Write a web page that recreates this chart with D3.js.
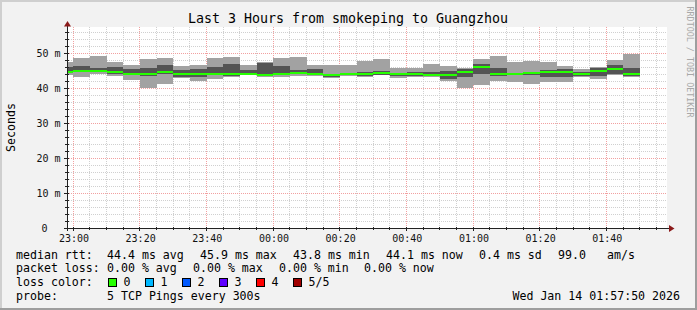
<!DOCTYPE html>
<html><head><meta charset="utf-8">
<script src="https://cdn.jsdelivr.net/npm/d3@7"></script>
<style>
body{margin:0;background:#fff}
svg{display:block}
text{font-family:"DejaVu Sans Mono",monospace}
</style>
</head><body>
<svg id="c" width="697" height="310"></svg>
<script>
// ---- data (ms) ----
const stepEnd = ["23:00","23:05","23:10","23:15","23:20","23:25","23:30","23:35","23:40","23:45",
  "23:50","23:55","00:00","00:05","00:10","00:15","00:20","00:25","00:30","00:35",
  "00:40","00:45","00:50","00:55","01:00","01:05","01:10","01:15","01:20","01:25",
  "01:30","01:35","01:40","01:45","01:50"];
const pingMin = [43.7,43.2,43.9,43.4,42.3,40.1,41.1,43.0,42.0,42.6,
  43.1,43.8,43.2,43.2,43.4,43.5,43.0,43.4,43.2,43.7,
  43.0,43.2,43.2,42.0,40.1,41.0,42.0,41.6,41.1,41.8,
  41.8,43.1,42.6,43.6,43.2];
const pingLow = [44.5,44.6,44.8,44.0,43.6,43.4,44.0,43.2,43.2,43.6,
  43.5,43.9,43.3,43.6,44.1,43.6,43.2,43.6,43.5,43.8,
  43.3,43.5,43.5,42.7,43.2,43.9,43.4,43.7,43.8,43.2,
  43.2,43.4,43.4,44.0,43.4];
const median = [44.6,45.0,45.0,44.6,44.1,43.9,44.6,44.0,43.9,44.1,
  44.0,44.0,43.8,43.9,44.4,43.9,43.8,43.9,44.0,44.4,
  44.1,44.0,43.8,43.8,44.6,45.9,43.9,43.9,44.3,44.5,
  44.6,44.0,45.0,45.3,44.1];
const pingHigh = [46.1,46.4,45.8,46.1,45.4,45.6,46.6,45.1,45.4,46.1,
  46.9,45.1,47.2,46.4,45.1,45.4,44.0,44.4,44.7,45.0,
  44.4,44.7,44.7,45.0,45.4,47.0,45.8,44.2,44.6,45.1,
  45.4,44.5,45.7,46.6,45.8];
const pingMax = [47.3,48.7,49.2,47.4,46.6,48.3,48.7,46.4,46.6,48.7,
  48.9,46.6,47.4,48.7,49.0,46.6,46.6,46.6,47.7,48.3,
  45.8,45.8,46.9,46.4,45.6,48.3,49.2,47.3,47.8,47.3,
  46.4,45.4,45.9,48.0,49.7];
const yTickValues = [0,10,20,30,40,50];
const yTickLabels = ["0","10 m","20 m","30 m","40 m","50 m"];
const rttStats = ["44.4 ms avg","45.9 ms max","43.8 ms min","44.1 ms now","0.4 ms sd","99.0","am/s"];
const lossStats = ["0.00 % avg","0.00 % max","0.00 % min","0.00 % now"];
const lossLabels = ["0","1","2","3","4","5/5"];
const lossColors = ["#26ff00","#00b8ff","#0059ff","#5e00ff","#ff0000","#a00000"];

// ---- layout ----
const svg = d3.select("#c");
const W = 697, H = 310;
const X0 = 67, X1 = 667, YB = 228, YT = 27;
const t0 = Date.UTC(2026,0,13,22,58,7);
const t1 = t0 + 3*3600*1000;
const x = d3.scaleUtc().domain([t0,t1]).range([X0,X1]);
const y = d3.scaleLinear().domain([0,57.43]).range([YB,YT]);
function parseT(s){const [h,m]=s.split(":").map(Number);return Date.UTC(2026,0,h>=12?13:14,h,m,0);}

// background + frame
svg.append("rect").attr("width",W).attr("height",H).attr("fill","#f2f2f2");
svg.append("rect").attr("x",0).attr("y",0).attr("width",W).attr("height",2).attr("fill","#cfcfcf");
svg.append("rect").attr("x",0).attr("y",0).attr("width",2).attr("height",H).attr("fill","#cfcfcf");
svg.append("rect").attr("x",0).attr("y",H-2).attr("width",W).attr("height",2).attr("fill","#9e9e9e");
svg.append("rect").attr("x",W-2).attr("y",0).attr("width",2).attr("height",H).attr("fill","#9e9e9e");

// canvas
svg.append("rect").attr("x",X0).attr("y",YT).attr("width",X1-X0).attr("height",YB-YT).attr("fill","#ffffff");

const g = svg.append("g");
// minor grid
const minorT = d3.utcMinute.every(5).range(t0,t1);
const majorT = d3.utcMinute.every(20).range(t0,t1);
const px = v => Math.floor(v)+0.5;
g.selectAll(".vmin").data(minorT.filter(t=>new Date(t).getUTCMinutes()%20!==0)).enter().append("line")
  .attr("x1",d=>px(x(d))).attr("x2",d=>px(x(d))).attr("y1",YT).attr("y2",YB)
  .attr("stroke","#d0d0d0").attr("stroke-dasharray","1,1");
const minorY = d3.range(2,57.4,2).filter(v=>v%10!==0);
g.selectAll(".hmin").data(minorY).enter().append("line")
  .attr("x1",X0).attr("x2",X1).attr("y1",d=>px(y(d))).attr("y2",d=>px(y(d)))
  .attr("stroke","#d0d0d0").attr("stroke-dasharray","1,1");
// major grid
g.selectAll(".vmaj").data(majorT).enter().append("line")
  .attr("x1",d=>px(x(d))).attr("x2",d=>px(x(d))).attr("y1",YT).attr("y2",YB)
  .attr("stroke","#f2a0a0").attr("stroke-dasharray","1,1");
g.selectAll(".hmaj").data(yTickValues.filter(v=>v>0)).enter().append("line")
  .attr("x1",X0).attr("x2",X1).attr("y1",d=>px(y(d))).attr("y2",d=>px(y(d)))
  .attr("stroke","#f2a0a0").attr("stroke-dasharray","1,1");

// smoke
const blocks = stepEnd.map((s,i)=>{const e=parseT(s);return {s:Math.max(t0,e-300000),e,mn:pingMin[i],lo:pingLow[i],md:median[i],hi:pingHigh[i],mx:pingMax[i]};});
const d = svg.append("g").attr("shape-rendering","crispEdges");
d.selectAll(".outer").data(blocks).enter().append("rect")
  .attr("x",b=>x(b.s)).attr("width",b=>x(b.e)-x(b.s))
  .attr("y",b=>y(b.mx)).attr("height",b=>y(b.mn)-y(b.mx)).attr("fill","#a2a2a2");
d.selectAll(".inner").data(blocks).enter().append("rect")
  .attr("x",b=>x(b.s)).attr("width",b=>x(b.e)-x(b.s))
  .attr("y",b=>y(b.hi)).attr("height",b=>y(b.lo)-y(b.hi)).attr("fill","#545454");
d.selectAll(".med").data(blocks).enter().append("rect")
  .attr("x",b=>x(b.s)).attr("width",b=>x(b.e)-x(b.s))
  .attr("y",b=>y(b.md)-1).attr("height",2).attr("fill",lossColors[0]);

// axes
const ax = svg.append("g").attr("stroke","#222").attr("shape-rendering","crispEdges");
ax.append("line").attr("x1",X0-3).attr("x2",X1+2).attr("y1",YB+0.5).attr("y2",YB+0.5);
ax.append("line").attr("x1",X0+0.5).attr("x2",X0+0.5).attr("y1",YB+3).attr("y2",YT-1);
// ticks
ax.selectAll(".tx").data(minorT).enter().append("line")
  .attr("x1",d=>px(x(d))).attr("x2",d=>px(x(d)))
  .attr("y1",YB-1).attr("y2",d=>new Date(d).getUTCMinutes()%20===0?YB+3:YB+2);
ax.selectAll(".ty").data(d3.range(2,57.4,2)).enter().append("line")
  .attr("y1",d=>px(y(d))).attr("y2",d=>px(y(d)))
  .attr("x1",d=>d%10===0?X0-3:X0-2).attr("x2",X0+2);
// arrows
svg.append("path").attr("d",`M${X0-3},${YT-0.5}L${X0+0.5},${YT-6}L${X0+4},${YT-0.5}Z`).attr("fill","#8b1a1a");
svg.append("path").attr("d",`M${X1+2},${YB-3}L${X1+7.5},${YB+0.5}L${X1+2},${YB+4}Z`).attr("fill","#8b1a1a");

// axis labels
svg.selectAll(".xl").data(majorT).enter().append("text")
  .attr("x",d=>x(d)+0.7).attr("y",241.5).attr("text-anchor","middle")
  .attr("font-size","10px").attr("fill","#111").text(d=>d3.utcFormat("%H:%M")(d));
svg.selectAll(".yl").data(yTickValues).enter().append("text")
  .attr("x",(v,i)=>i===0?47.5:60.5).attr("y",v=>y(v)+3.6).attr("text-anchor","end")
  .attr("font-size","10px").attr("fill","#111").text((v,i)=>yTickLabels[i]);

// title
svg.append("text").attr("x",348).attr("y",23).attr("text-anchor","middle")
  .attr("font-size","13.3px").attr("fill","#000").text("Last 3 Hours from smokeping to Guangzhou");
// y title
svg.append("text").attr("transform","translate(14.5,127.5) rotate(-90)").attr("text-anchor","middle")
  .attr("font-size","11.6px").attr("fill","#000").text("Seconds");
// watermark
svg.append("text").attr("transform","translate(687,6.5) rotate(90)").attr("text-anchor","start")
  .attr("font-size","8.4px").attr("fill","#a8a8a8").text("RRDTOOL / TOBI OETIKER");

// legend
const lf = "11.6px";
function lt(s,xx,yy,anchor){svg.append("text").attr("x",xx).attr("y",yy).attr("font-size",lf)
  .attr("text-anchor",anchor||"start").attr("fill","#000").attr("xml:space","preserve").text(s);}
const L1 = 258.5, L2 = 272.3, L3 = 286, L4 = 299.8;
lt("median rtt:",16,L1);
const rttX = [107,200,293,386,479,558,607];
rttStats.forEach((s,i)=>lt(s,rttX[i],L1));
lt("packet loss:",16,L2);
const lossX = [107,193,279,364];
lossStats.forEach((s,i)=>lt(s,lossX[i],L2));
lt("loss color:",16,L3);
const boxX = [108,145,182,219,256,293];
lossLabels.forEach((s,i)=>{
  svg.append("rect").attr("x",boxX[i]+0.5).attr("y",278.5).attr("width",8).attr("height",8)
    .attr("fill",lossColors[i]).attr("stroke","#000").attr("stroke-width",1);
  lt(s,boxX[i]+15.5,L3);
});
lt("probe:",16,L4);
lt("5 TCP Pings every 300s",107,L4);
lt("Wed Jan 14 01:57:50 2026",680,L4,"end");
</script>
</body></html>
